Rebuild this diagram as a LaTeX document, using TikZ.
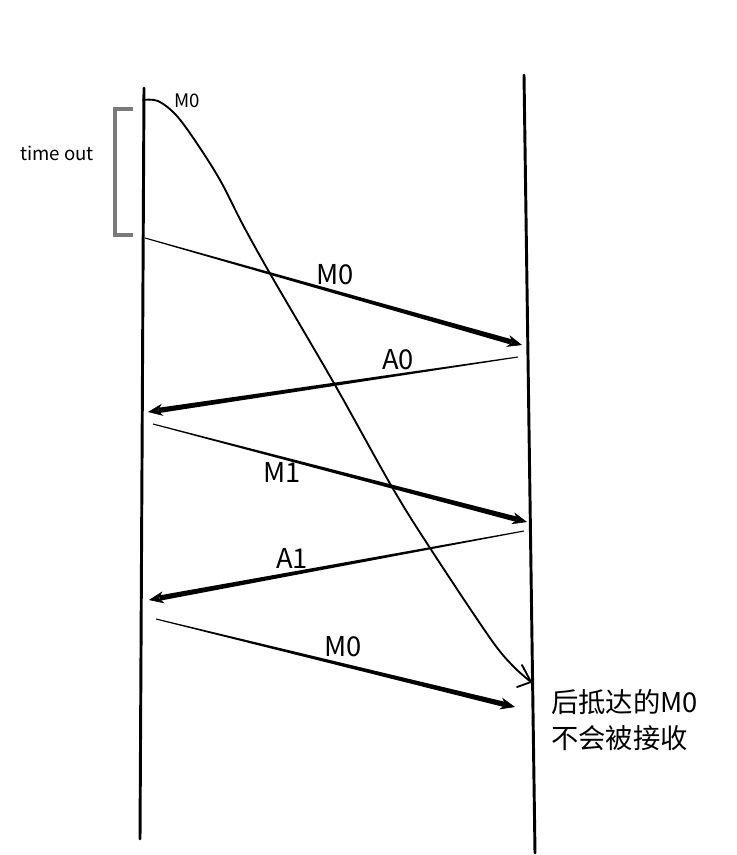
\documentclass[tikz,border=0pt]{standalone}
\usepackage{fontspec}
\setmainfont{Noto Sans CJK SC}
\usetikzlibrary{calc,arrows.meta}
\newcommand\taperarrow[2]{%
  \coordinate (#2x) at ($(#2)!8pt!(#1)$);
  \fill ($(#1)!0.4pt!90:(#2x)$) -- ($(#2x)!2pt!-90:(#1)$) -- ($(#2x)!2pt!90:(#1)$) -- ($(#1)!0.4pt!-90:(#2x)$) -- cycle;
  \draw[headarrow] ($(#2)!12pt!(#1)$) -- (#2);
}
\begin{document}
\begin{tikzpicture}[x=0.75pt,y=-0.75pt,
  timeline/.style={line width=2.2pt, line cap=round},
  bracketline/.style={draw=black!52, line width=2.3pt},
  curveline/.style={line width=1.4pt, line join=round, line cap=round},
  headarrow/.style={line width=0.4pt, -{Stealth[length=11pt,width=9pt]}},
  biglabel/.style={font=\fontsize{20.5}{27}\selectfont, inner sep=0pt},
  smalllabel/.style={font=\fontsize{14}{16}\selectfont, inner sep=0pt}]
\useasboundingbox (0,0) rectangle (736,855);

% timelines
\coordinate (Lt) at (144,88); \coordinate (Lb) at (140,839);
\coordinate (Rt) at (524,75); \coordinate (Rb) at (535,853);
\draw[timeline] (Lt) -- (Lb);
\draw[timeline] (Rt) -- (Rb);

% time out bracket
\coordinate (bt) at (133,109); \coordinate (bb) at (133,235);
\draw[bracketline] (bt) -- (115,109) -- (115,235) -- (bb);
\node[smalllabel] (timeout) at (57,153) {time out};

% delayed M0 curve
\draw[curveline] plot[smooth, tension=0.55] coordinates {(143,100) (158,101) (176,115) (196,142) (220,180) (243,225) (272,277) (335,385) (392,487) (430,548) (490,638) (513,666) (531,682)};
\coordinate (cend) at (531,682);
\draw[curveline] (cend) -- ++(-9,-17);
\draw[curveline] (cend) -- ++(-14,5);
\node[smalllabel] (m0small) at (187,101) {M0};

% messages
\coordinate (m0a) at (145,238); \coordinate (m0b) at (522,345);
\coordinate (a0a) at (518,357); \coordinate (a0b) at (148,412);
\coordinate (m1a) at (153,424); \coordinate (m1b) at (527,522);
\coordinate (a1a) at (524,531); \coordinate (a1b) at (149,600);
\coordinate (m2a) at (156,619); \coordinate (m2b) at (515,707);
\taperarrow{m0a}{m0b}
\taperarrow{a0a}{a0b}
\taperarrow{m1a}{m1b}
\taperarrow{a1a}{a1b}
\taperarrow{m2a}{m2b}

\node[biglabel] (lm0) at (335,275) {M0};
\node[biglabel] (la0) at (398,360) {A0};
\node[biglabel] (lm1) at (282,472) {M1};
\node[biglabel] (la1) at (292,558) {A1};
\node[biglabel] (lm2) at (343,647) {M0};

\node[biglabel, anchor=west, align=left] (note) at (551,720) {后抵达的M0\\不会被接收};
\end{tikzpicture}
\end{document}
